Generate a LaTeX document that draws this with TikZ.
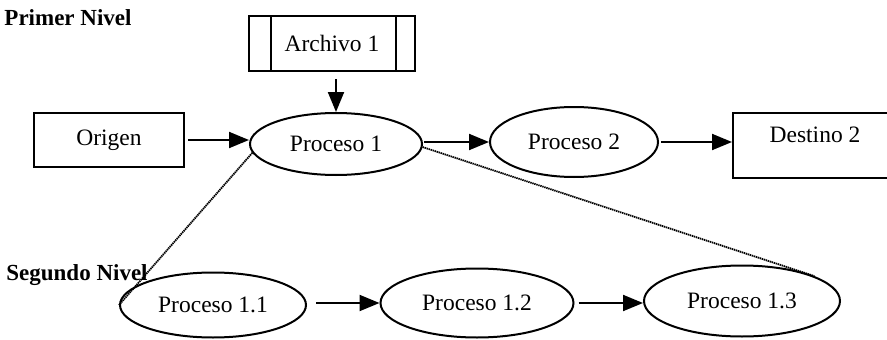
\documentclass[tikz,border=0pt]{standalone}
\usepackage{fontspec}
\setmainfont{Liberation Serif}
\usetikzlibrary{arrows.meta,shapes.geometric}

\begin{document}
\begin{tikzpicture}[x=1pt,y=-1pt,font=\fontsize{23.5}{27}\selectfont,
	proc/.style={draw,ellipse,line width=2pt,inner sep=0pt},
	box/.style={draw,rectangle,line width=2pt,inner sep=0pt},
	filebox/.style={box,path picture={
		\draw[line width=2pt] ([xshift=22pt]path picture bounding box.north west) -- ([xshift=22pt]path picture bounding box.south west)
			([xshift=-19pt]path picture bounding box.north east) -- ([xshift=-19pt]path picture bounding box.south east);}},
	flow/.style={line width=2pt,-{Triangle[length=20pt,width=16pt]}},
	level/.style={line width=1.8pt,dash pattern=on 1.4pt off 0.7pt},
	title/.style={font=\fontsize{23}{27}\selectfont\bfseries}]
\useasboundingbox (0,0) rectangle (887,340);
\clip (0,0) rectangle (887,340);
		\node[title] (lvl1) at (68,18) {Primer Nivel};
		\node[title] (lvl2) at (77,275) {Segundo Nivel};

\node[filebox,minimum width=166pt,minimum height=55pt] (arch) at (332,43.5) {Archivo 1};
\node[box,minimum width=150pt,minimum height=54pt] (orig) at (109,140) {Origen};
\node[box,overlay,minimum width=164pt,text height=21pt,text depth=28pt,inner ysep=8pt] (dest) at (815,145.5) {Destino 2};

\node[proc,minimum width=172pt,minimum height=62pt] (p1) at (336,144) {Proceso 1};
\node[proc,minimum width=168pt,minimum height=70pt] (p2) at (574,142) {Proceso 2};
\node[proc,minimum width=186pt,minimum height=65pt] (p11) at (213,305) {Proceso 1.1};
\node[proc,minimum width=193pt,minimum height=69pt] (p12) at (477,303) {Proceso 1.2};
\node[proc,minimum width=196pt,minimum height=71pt] (p13) at (742,301) {Proceso 1.3};

\draw[flow,shorten <=7pt] (p1.north |- arch.south) -- (p1.north);
\draw[flow,shorten <=3pt] (orig.east) -- (orig.east -| p1.west);
\draw[flow,shorten <=1pt] (p1.east |- p2.west) -- (p2.west);
\draw[flow,shorten <=2pt] (p2.east) -- (p2.east -| dest.west);
\draw[flow,shorten <=9pt] (p11.east |- p12.west) -- (p12.west);
\draw[flow,shorten <=4pt] (p12.east) -- (p12.east -| p13.west);

\draw[level] (p1.186) -- (p11.west);
\draw[level] (p1.358) -- (p13.19);

\end{tikzpicture}
\end{document}
